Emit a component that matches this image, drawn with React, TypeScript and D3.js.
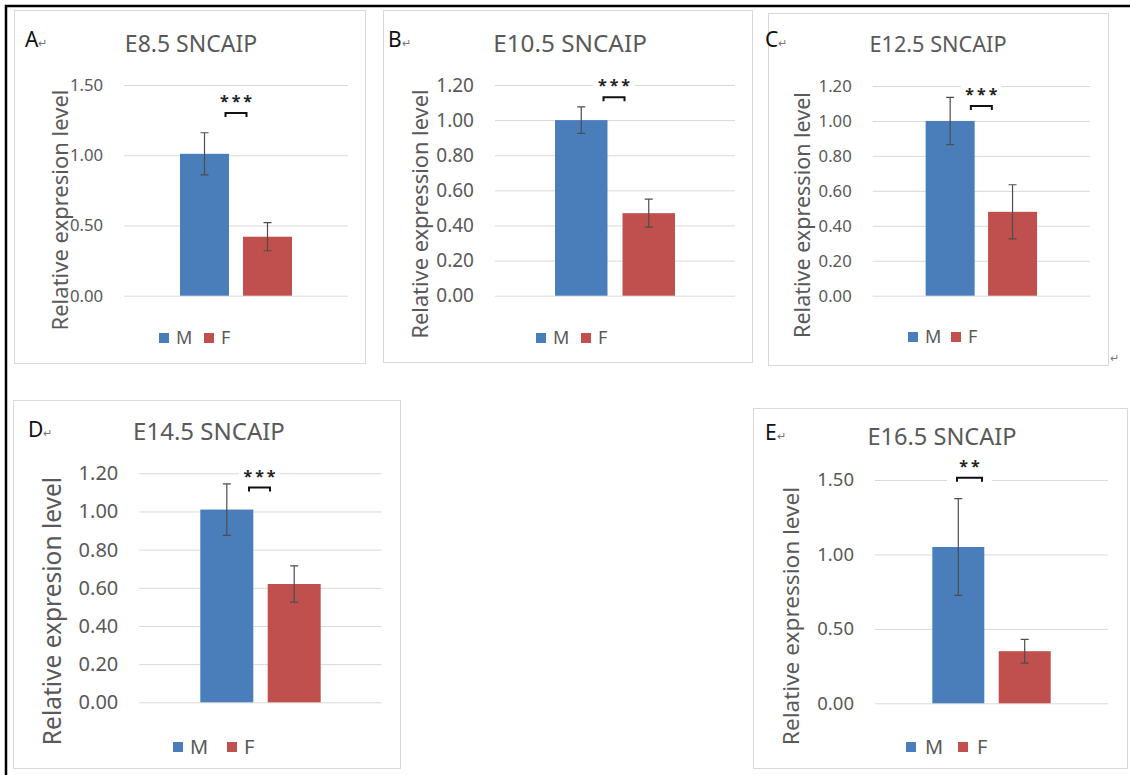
import React, { useEffect, useRef } from 'react';
import * as d3 from 'd3';

// Chart data, one entry per panel
const panelLetters = ['A', 'B', 'C', 'D', 'E'];
const panelTitles = ['E8.5 SNCAIP', 'E10.5 SNCAIP', 'E12.5 SNCAIP', 'E14.5 SNCAIP', 'E16.5 SNCAIP'];
const yAxisTitles = [
  'Relative expresion level',
  'Relative expression level',
  'Relative expression level',
  'Relative expresion level',
  'Relative expression level',
];
const sexes = ['M', 'F'];
const maleMeans = [1.01, 1.0, 1.0, 1.01, 1.05];
const maleErrors = [0.15, 0.075, 0.135, 0.135, 0.325];
const femaleMeans = [0.42, 0.47, 0.48, 0.62, 0.35];
const femaleErrors = [0.1, 0.08, 0.155, 0.095, 0.08];
const yMaxValues = [1.5, 1.2, 1.2, 1.2, 1.5];
const yTickSteps = [0.5, 0.2, 0.2, 0.2, 0.5];
const significanceMarks = ['***', '***', '***', '***', '**'];
const bracketLevels = [1.3, 1.13, 1.085, 1.125, 1.515];

// Layout of each panel on the page (pixels); fonts = [title, ticks, y title, legend]
const layout = [
  { box: [14, 10, 351, 353], plot: [124, 348, 85, 295.7], barW: 49, gap: 14, letter: [25, 47], title: [191, 52], yTitle: [60, 210], legend: [159, 338, 17, 45], bracketDx: 0, fonts: [23, 16.7, 22, 18] },
  { box: [383, 10, 369, 352], plot: [495, 735, 85, 295.7], barW: 52.5, gap: 15, letter: [388, 47], title: [570, 52], yTitle: [420, 214], legend: [536, 338, 17, 45], bracketDx: -1, fonts: [24.3, 19, 21.8, 18] },
  { box: [768, 13, 340, 352], plot: [872.7, 1090, 86, 295.7], barW: 49, gap: 13.4, letter: [765, 47], title: [938, 52], yTitle: [802, 215], legend: [908, 337, 17, 43], bracketDx: 0, fonts: [21.7, 16.7, 21.5, 18] },
  { box: [13, 400, 387, 368], plot: [139.3, 381.7, 473.3, 702.3], barW: 53, gap: 14.4, letter: [28, 437], title: [209, 440], yTitle: [52, 611], legend: [173, 747, 17, 54], bracketDx: -1, fonts: [24, 20, 24.5, 20] },
  { box: [753, 408, 374, 360], plot: [875, 1108, 480, 703.3], barW: 52, gap: 14.4, letter: [765, 440], title: [942, 445], yTitle: [791, 616], legend: [906, 747, 19, 52], bracketDx: -22, fonts: [23.6, 18.5, 22.6, 20] },
];

const W = 1130;
const H = 775;
const FONT = '"Noto Sans", "Open Sans", sans-serif';
const TEXT_GRAY = '#595959';
const colors = { M: '#4a7ebb', F: '#c0504d' };

const App = () => {
  const svgRef = useRef<SVGSVGElement>(null);

  useEffect(() => {
    document.body.style.margin = '0';
    const svg = d3.select(svgRef.current);
    svg.selectAll('*').remove();

    svg.append('rect').attr('width', W).attr('height', H).attr('fill', '#fff');

    panelLetters.forEach((letter, i) => {
      const L = layout[i];
      const [titleSize, tickSize, yTitleSize, legendSize] = L.fonts;
      const g = svg.append('g').style('font-family', FONT);

      // panel frame
      const [bx, by, bw, bh] = L.box;
      g.append('rect')
        .attr('x', bx + 0.5).attr('y', by + 0.5)
        .attr('width', bw).attr('height', bh)
        .attr('fill', '#fff').attr('stroke', '#d9d9d9');

      const [x0, x1, yTop, yBottom] = L.plot;
      const y = d3.scaleLinear().domain([0, yMaxValues[i]]).range([yBottom, yTop]);
      const ticks = d3.range(0, yMaxValues[i] + 1e-6, yTickSteps[i]);

      // grid lines + tick labels
      const axis = g.append('g')
        .attr('transform', `translate(${x0},0)`)
        .call(d3.axisLeft(y).tickValues(ticks).tickSize(-(x1 - x0)).tickPadding(21).tickFormat(d3.format('.2f')));
      axis.select('.domain').remove();
      axis.selectAll('line').attr('stroke', '#d9d9d9');
      axis.selectAll('text')
        .attr('fill', TEXT_GRAY)
        .attr('font-family', FONT)
        .attr('font-size', tickSize);

      const cx = (x0 + x1) / 2;
      const x = d3.scaleBand()
        .domain(sexes)
        .range([cx - L.barW - L.gap / 2, cx + L.barW + L.gap / 2])
        .paddingInner(L.gap / (L.barW + L.gap));

      const rows = [
        { key: 'M', value: maleMeans[i], err: maleErrors[i] },
        { key: 'F', value: femaleMeans[i], err: femaleErrors[i] },
      ];

      // significance bracket and stars (white box hides the grid line)
      const brY = y(bracketLevels[i]);
      const brX = cx + L.bracketDx;
      const halfW = significanceMarks[i].length === 3 ? 10.5 : 12.5;
      g.append('rect')
        .attr('x', brX - halfW - 10).attr('y', brY - 24)
        .attr('width', halfW * 2 + 20).attr('height', 30)
        .attr('fill', '#fff');
      g.append('path')
        .attr('d', `M${brX - halfW},${brY + 4}V${brY}H${brX + halfW}V${brY + 4}`)
        .attr('fill', 'none').attr('stroke', '#111').attr('stroke-width', 2);
      g.append('text')
        .attr('x', brX + 1.5).attr('y', brY - 15 + 9)
        .attr('text-anchor', 'middle')
        .attr('fill', '#222')
        .style('font-size', '16px')
        .style('font-weight', 'bold')
        .style('letter-spacing', '3px')
        .text(significanceMarks[i]);

      // bars
      g.selectAll('.bar')
        .data(rows)
        .enter().append('rect')
        .attr('class', 'bar')
        .attr('x', d => x(d.key))
        .attr('width', x.bandwidth())
        .attr('y', d => y(d.value))
        .attr('height', d => y(0) - y(d.value))
        .attr('fill', d => colors[d.key]);

      // error bars
      rows.forEach(d => {
        const ex = (x(d.key) as number) + x.bandwidth() / 2;
        const eTop = y(d.value + d.err);
        const eBot = y(d.value - d.err);
        g.append('path')
          .attr('d', `M${ex},${eTop}V${eBot}M${ex - 4},${eTop}H${ex + 4}M${ex - 4},${eBot}H${ex + 4}`)
          .attr('fill', 'none').attr('stroke', '#4d4d4d').attr('stroke-width', 1.2);
      });

      // title
      g.append('text')
        .attr('x', L.title[0]).attr('y', L.title[1])
        .attr('text-anchor', 'middle')
        .attr('fill', TEXT_GRAY)
        .style('font-size', `${titleSize}px`)
        .text(panelTitles[i]);

      // panel letter with return mark
      const lt = g.append('text')
        .attr('x', L.letter[0]).attr('y', L.letter[1])
        .attr('fill', '#111')
        .style('font-size', '21px')
        .text(letter);
      lt.append('tspan')
        .attr('fill', '#777')
        .style('font-size', '11px')
        .text('↵');

      // y axis title
      g.append('text')
        .attr('transform', `translate(${L.yTitle[0]},${L.yTitle[1]}) rotate(-90)`)
        .attr('text-anchor', 'middle')
        .attr('dy', '0.35em')
        .attr('fill', TEXT_GRAY)
        .style('font-size', `${yTitleSize}px`)
        .text(yAxisTitles[i]);

      // legend
      const [lx, ly, textOff, secondOff] = L.legend;
      sexes.forEach((s, k) => {
        const ox = lx + k * secondOff;
        g.append('rect')
          .attr('x', ox).attr('y', ly - 5)
          .attr('width', 10).attr('height', 10)
          .attr('fill', colors[s]);
        g.append('text')
          .attr('x', ox + textOff).attr('y', ly)
          .attr('dy', '0.36em')
          .attr('fill', TEXT_GRAY)
          .style('font-size', `${legendSize}px`)
          .text(s);
      });
    });

    // stray return mark after panel C
    svg.append('text')
      .attr('x', 1110).attr('y', 362)
      .attr('fill', '#777')
      .style('font-family', FONT)
      .style('font-size', '11px')
      .text('↵');

    // outer black frame (top and left)
    svg.append('path')
      .attr('d', `M6,${H}V6H${W}`)
      .attr('fill', 'none')
      .attr('stroke', '#000')
      .attr('stroke-width', 2.5);
  }, []);

  return <svg ref={svgRef} width={W} height={H} style={{ display: 'block' }} />;
};

export default App;
